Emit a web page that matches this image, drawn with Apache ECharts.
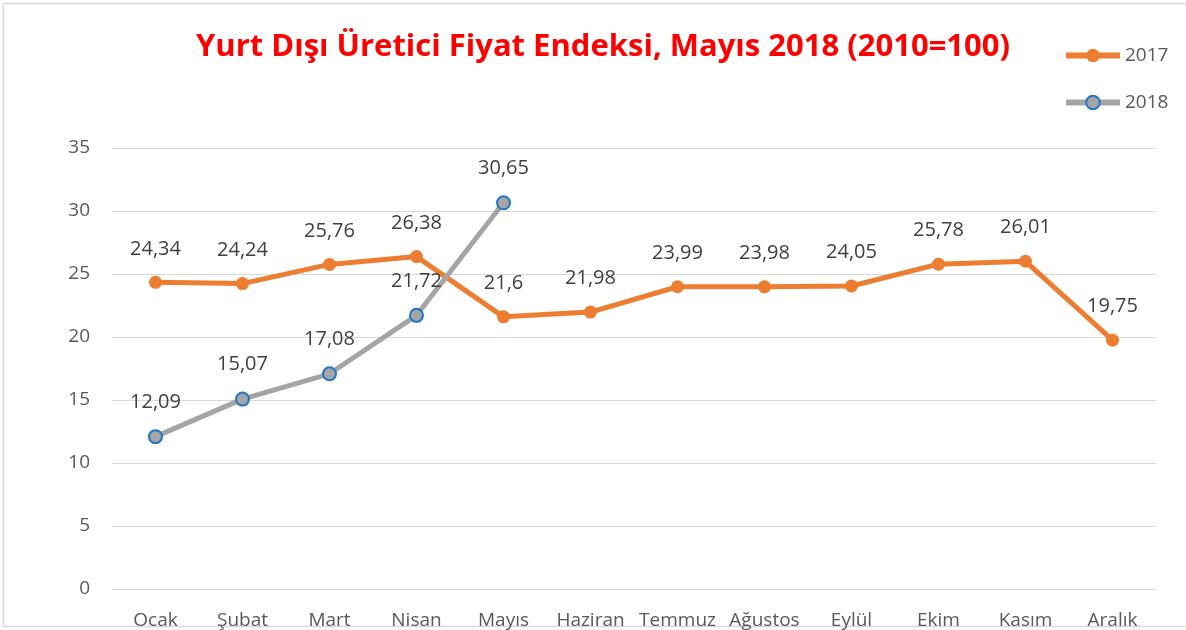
<!DOCTYPE html>
<html>
<head>
<meta charset="utf-8">
<script src="https://cdn.jsdelivr.net/npm/echarts@6/dist/echarts.min.js"></script>
<style>
  html, body { margin: 0; padding: 0; background: #fff; }
  #chart { width: 1186px; height: 630px; }
</style>
</head>
<body>
<div id="chart"></div>
<script>
// Aylar
const months = ['Ocak', 'Şubat', 'Mart', 'Nisan', 'Mayıs', 'Haziran', 'Temmuz', 'Ağustos', 'Eylül', 'Ekim', 'Kasım', 'Aralık'];

// 2017 değerleri
const values2017 = [24.34, 24.24, 25.76, 26.38, 21.6, 21.98, 23.99, 23.98, 24.05, 25.78, 26.01, 19.75];

// 2018 değerleri (Mayıs'a kadar)
const values2018 = [12.09, 15.07, 17.08, 21.72, 30.65];

const fontFamily = '"Open Sans", "Noto Sans", sans-serif';
const commaFmt = (p) => String(p.value).replace('.', ',');

const chart = echarts.init(document.getElementById('chart'));

chart.setOption({
  animation: false,
  title: {
    text: 'Yurt Dışı Üretici Fiyat Endeksi, Mayıs 2018 (2010=100)',
    left: 598,
    textAlign: 'center',
    top: 27,
    textStyle: {
      color: '#ff0000',
      fontSize: 31,
      fontWeight: 'bold',
      fontFamily: fontFamily
    }
  },
  legend: {
    orient: 'vertical',
    left: 1058,
    top: 41,
    itemGap: 28,
    itemWidth: 54,
    itemHeight: 17,
    textStyle: { color: '#595959', fontSize: 19, fontFamily: fontFamily },
    data: [
      { name: '2017', lineStyle: { width: 6 } },
      { name: '2018', lineStyle: { width: 6 } }
    ]
  },
  graphic: [{
    type: 'rect',
    shape: { x: 3.5, y: 3.5, width: 1190, height: 623 },
    style: { fill: 'none', stroke: '#d9d9d9', lineWidth: 1.5 },
    silent: true
  }],
  grid: {
    left: 112,
    right: 30,
    top: 148,
    bottom: 41
  },
  xAxis: {
    type: 'category',
    data: months,
    boundaryGap: true,
    axisLine: { show: true, lineStyle: { color: '#d9d9d9', width: 1 } },
    axisTick: { show: false },
    axisLabel: {
      color: '#595959',
      fontSize: 19,
      fontFamily: fontFamily,
      margin: 22,
      interval: 0
    }
  },
  yAxis: {
    type: 'value',
    min: 0,
    max: 35,
    interval: 5,
    axisLine: { show: false },
    axisTick: { show: false },
    splitLine: { lineStyle: { color: '#d9d9d9', width: 1 } },
    axisLabel: {
      color: '#595959',
      fontSize: 19,
      fontFamily: fontFamily,
      margin: 22
    }
  },
  series: [
    {
      name: '2017',
      type: 'line',
      data: values2017,
      symbol: 'circle',
      symbolSize: 13,
      lineStyle: { color: '#ed7d31', width: 5 },
      itemStyle: { color: '#ed7d31', borderWidth: 0 },
      label: {
        show: true,
        position: 'top',
        distance: 17,
        color: '#404040',
        fontSize: 20,
        fontFamily: fontFamily,
        formatter: commaFmt
      },
      z: 2
    },
    {
      name: '2018',
      type: 'line',
      data: values2018,
      symbol: 'circle',
      symbolSize: 13,
      lineStyle: { color: '#a5a5a5', width: 5 },
      itemStyle: { color: '#a5a5a5', borderColor: '#1f77c8', borderWidth: 2 },
      label: {
        show: true,
        position: 'top',
        distance: 17,
        color: '#404040',
        fontSize: 20,
        fontFamily: fontFamily,
        formatter: commaFmt
      },
      z: 3
    }
  ]
});
</script>
</body>
</html>
